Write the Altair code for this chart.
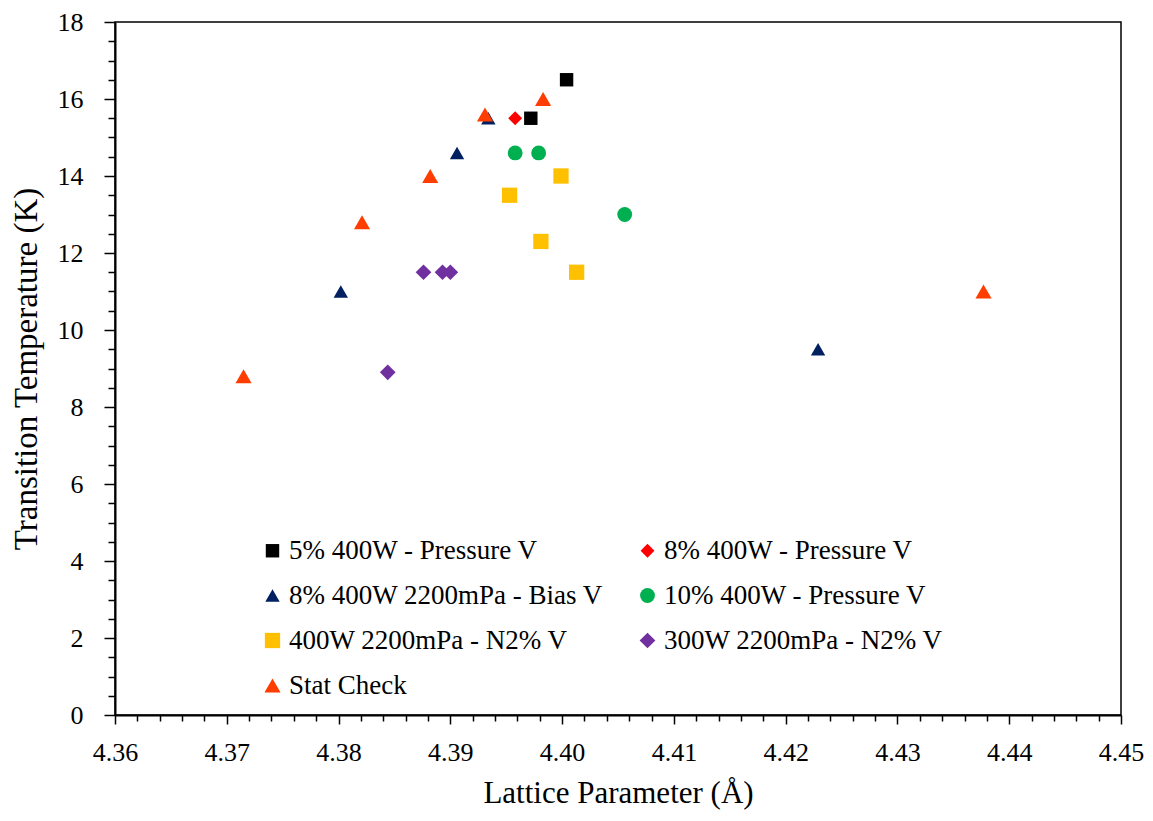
import altair as alt
import pandas as pd

# ---- data ----
series = [
    "5% 400W - Pressure V",
    "8% 400W - Pressure V",
    "8% 400W 2200mPa - Bias V",
    "10% 400W - Pressure V",
    "400W 2200mPa - N2% V",
    "300W 2200mPa - N2% V",
    "Stat Check",
]
colors = ["#000000", "#FF0000", "#002060", "#00B050", "#FFC000", "#7030A0", "#FF3D00"]
shapes = ["square", "diamond", "triangle-up", "circle", "square", "diamond", "triangle-up"]
sizes = [180, 260, 300, 260, 180, 260, 300]

s1_x = [4.3972, 4.4004]
s1_y = [15.5, 16.5]
s2_x = [4.3958]
s2_y = [15.5]
s3_x = [4.3802, 4.3906, 4.3934, 4.4229]
s3_y = [11.0, 14.6, 15.5, 9.5]
s4_x = [4.3958, 4.3979, 4.4056]
s4_y = [14.6, 14.6, 13.0]
s5_x = [4.3953, 4.3999, 4.3981, 4.4013]
s5_y = [13.5, 14.0, 12.3, 11.5]
s6_x = [4.3844, 4.3876, 4.3893, 4.3900]
s6_y = [8.9, 11.5, 11.5, 11.5]
s7_x = [4.3715, 4.3821, 4.3882, 4.3931, 4.3983, 4.4377]
s7_y = [8.8, 12.8, 14.0, 15.6, 16.0, 11.0]

xs = [s1_x, s2_x, s3_x, s4_x, s5_x, s6_x, s7_x]
ys = [s1_y, s2_y, s3_y, s4_y, s5_y, s6_y, s7_y]

rows = []
for i, (name, xv, yv) in enumerate(zip(series, xs, ys)):
    for a, b in zip(xv, yv):
        rows.append({"series": name, "lattice": a, "tc": b, "order": i})
df = pd.DataFrame(rows)

x_ticks = [round(4.36 + i * 0.002, 3) for i in range(46)]
y_ticks = [i * 0.5 for i in range(37)]

FONT = "Liberation Serif"

legend = alt.Legend(
    title=None,
    orient="none",
    direction="horizontal",
    legendX=144,
    legendY=515,
    columns=2,
    columnPadding=30,
    rowPadding=17,
    labelFont=FONT,
    labelFontSize=27,
    labelColor="black",
    labelOffset=3,
    symbolSize=100,
    symbolStrokeWidth=0,
    labelLimit=500,
)

x_major = "abs(datum.value*100 - round(datum.value*100)) < 0.001"
y_major = "datum.value % 2 === 0"

chart = (
    alt.Chart(df)
    .mark_point(filled=True, opacity=1, strokeWidth=0)
    .encode(
        x=alt.X(
            "lattice:Q",
            title="Lattice Parameter (Å)",
            scale=alt.Scale(domain=[4.36, 4.45], nice=False, zero=False),
            axis=alt.Axis(
                values=x_ticks,
                labelExpr=f"{x_major} ? format(datum.value, '.2f') : ''",
                tickSize={"condition": {"test": x_major, "value": 9}, "value": 6},
                labelPadding=15,
                titlePadding=13,
                titleFontSize=31,
                labelOverlap=False,
                labelFlush=False,
                labelFont=FONT,
                titleFont=FONT,
            ),
        ),
        y=alt.Y(
            "tc:Q",
            title="Transition Temperature (K)",
            scale=alt.Scale(domain=[0, 18], nice=False),
            axis=alt.Axis(
                values=y_ticks,
                labelExpr=f"{y_major} ? format(datum.value, 'd') : ''",
                tickSize={"condition": {"test": y_major, "value": 11}, "value": 7},
                labelPadding=21,
                titlePadding=14,
                labelOverlap=False,
                labelFlush=False,
                labelFont=FONT,
                titleFont=FONT,
            ),
        ),
        color=alt.Color("series:N", scale=alt.Scale(domain=series, range=colors), legend=legend),
        shape=alt.Shape("series:N", scale=alt.Scale(domain=series, range=shapes), legend=legend),
        size=alt.Size("series:N", scale=alt.Scale(domain=series, range=sizes), legend=None),
        order=alt.Order("order:Q"),
    )
    .properties(
        width=1006,
        height=693,
        autosize=alt.AutoSizeParams(type="none"),
        padding={"left": 107, "top": 14, "right": 24, "bottom": 98},
    )
    .configure_view(stroke="black", strokeWidth=1.5)
    .configure_axis(
        grid=False,
        domainColor="black",
        domainWidth=2,
        tickColor="black",
        tickWidth=1.5,
        labelFont=FONT,
        labelFontSize=26,
        labelColor="black",
        titleFont=FONT,
        titleFontSize=33,
        titleFontWeight="normal",
        titleColor="black",
    )
)

chart.save("out.html", embed_options={"renderer": "svg", "actions": False})
